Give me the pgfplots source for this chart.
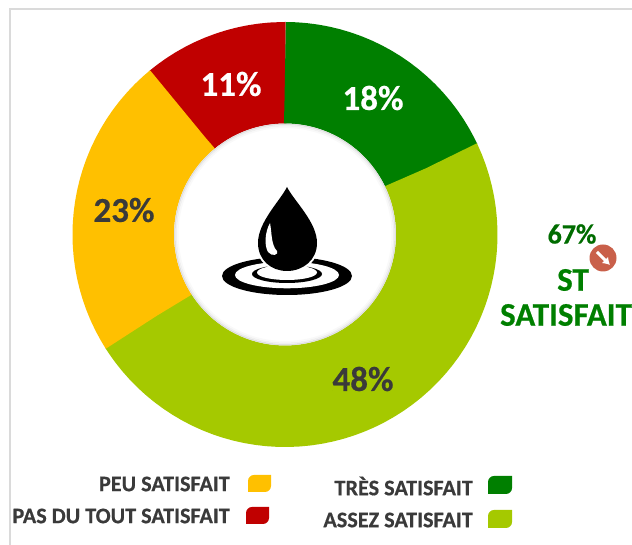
\documentclass[border=0pt]{standalone}
\usepackage{fontspec}
\setmainfont[BoldFeatures={FakeBold=0.5}]{Carlito}
\usepackage{pgfplots}
\pgfplotsset{compat=1.18}
\usepgfplotslibrary{polar}
\usetikzlibrary{arrows.meta}
\definecolor{cG}{HTML}{007F00}
\definecolor{cL}{HTML}{A5C900}
\definecolor{cY}{HTML}{FFC000}
\definecolor{cR}{HTML}{C00000}
\definecolor{cT}{HTML}{3A3A3A}
\definecolor{cB}{HTML}{DADADA}
\definecolor{cA}{HTML}{C9604A}
\newcommand\sw[5]{\fill[#1] (#2,#3) [rounded corners=6pt] -- (#2,#5) [sharp corners] -- (#4,#5) [rounded corners=6pt] -- (#4,#3) [sharp corners] -- cycle;}
\begin{document}
\begin{tikzpicture}[x=1pt,y=1pt]
\path[use as bounding box] (0,0) rectangle (632,545);
\draw[cB,line width=2pt] (10,0) -- (10,536) -- (632,536);
\begin{polaraxis}[
  at={(285pt,310.5pt)},anchor=center,
  scale only axis,width=425pt,height=425pt,
  ymin=0,ymax=212.5,xmin=0,xmax=360,
  hide axis,clip=false,
  every axis plot/.append style={no markers,line width=101.5pt,line cap=butt,line join=round}
]
% share of each slice: 18, 48, 23, 11 per cent, clockwise from the top, ring at radius 161.75
\addplot[cR] coordinates {(-230.4,161.75)(-230.5,161.75)(-233,161.75)(-236,161.75)(-239,161.75)(-242,161.75)(-245,161.75)(-248,161.75)(-251,161.75)(-254,161.75)(-257,161.75)(-260,161.75)(-263,161.75)(-266,161.75)(-269.9,161.75)(-270.2,161.75)};
\addplot[cG] coordinates {(90,161.75)(89.9,161.75)(87,161.75)(84,161.75)(81,161.75)(78,161.75)(75,161.75)(72,161.75)(69,161.75)(66,161.75)(63,161.75)(60,161.75)(57,161.75)(54,161.75)(51,161.75)(48,161.75)(45,161.75)(42,161.75)(39,161.75)(36,161.75)(33,161.75)(30,161.75)(27,161.75)(25.3,161.75)(25.0,161.75)};
\addplot[cL] coordinates {(25.2,161.75)(25.1,161.75)(22,161.75)(19,161.75)(16,161.75)(13,161.75)(10,161.75)(7,161.75)(4,161.75)(1,161.75)(-2,161.75)(-5,161.75)(-8,161.75)(-11,161.75)(-14,161.75)(-17,161.75)(-20,161.75)(-23,161.75)(-26,161.75)(-29,161.75)(-32,161.75)(-35,161.75)(-38,161.75)(-41,161.75)(-44,161.75)(-47,161.75)(-50,161.75)(-53,161.75)(-56,161.75)(-59,161.75)(-62,161.75)(-65,161.75)(-68,161.75)(-71,161.75)(-74,161.75)(-77,161.75)(-80,161.75)(-83,161.75)(-86,161.75)(-89,161.75)(-92,161.75)(-95,161.75)(-98,161.75)(-101,161.75)(-104,161.75)(-107,161.75)(-110,161.75)(-113,161.75)(-116,161.75)(-119,161.75)(-122,161.75)(-125,161.75)(-128,161.75)(-131,161.75)(-134,161.75)(-137,161.75)(-140,161.75)(-143,161.75)(-146,161.75)(-147.5,161.75)(-147.8,161.75)};
\addplot[cY] coordinates {(-147.6,161.75)(-147.7,161.75)(-150,161.75)(-153,161.75)(-156,161.75)(-159,161.75)(-162,161.75)(-165,161.75)(-168,161.75)(-171,161.75)(-174,161.75)(-177,161.75)(-180,161.75)(-183,161.75)(-186,161.75)(-189,161.75)(-192,161.75)(-195,161.75)(-198,161.75)(-201,161.75)(-204,161.75)(-207,161.75)(-210,161.75)(-213,161.75)(-216,161.75)(-219,161.75)(-222,161.75)(-225,161.75)(-228,161.75)(-230.3,161.75)(-230.6,161.75)};
\end{polaraxis}
% soft shadow inside the hole
\draw[black!12,line width=1.5pt] (285,310.5) circle (110.2);
\draw[black!6,line width=1.5pt] (285,310.5) circle (108.7);
\draw[black!2.5,line width=1.5pt] (285,310.5) circle (107.2);
% percentages
\node[font=\fontsize{35}{35}\bfseries,text=white] at (373,447) {18\%};
\node[font=\fontsize{35}{35}\bfseries,text=white] at (231,461) {11\%};
\node[font=\fontsize{35}{35}\bfseries,text=cT] at (124,335) {23\%};
\node[font=\fontsize{35}{35}\bfseries,text=cT] at (363,166) {48\%};
% drop icon
\begin{scope}[shift={(0,545)},yscale=-1]
\fill[black] (287,276) ellipse [x radius=65,y radius=19];
\fill[white] (287,275) ellipse [x radius=52,y radius=13.3];
\fill[black] (287,274) ellipse [x radius=35,y radius=9];
\fill[white] (287,272.5) ellipse [x radius=30,y radius=7.5];
\path[draw=white,line width=4pt,fill=black] (287,187) .. controls (280,201) and (258,222) .. (258,243)
  .. controls (258,260) and (271,271) .. (287,271)
  .. controls (303,271) and (317,260) .. (317,243)
  .. controls (317,222) and (294,201) .. (287,187) -- cycle;
\fill[black] (287,187) .. controls (280,201) and (258,222) .. (258,243)
  .. controls (258,260) and (271,271) .. (287,271)
  .. controls (303,271) and (317,260) .. (317,243)
  .. controls (317,222) and (294,201) .. (287,187) -- cycle;
\fill[white] (270,223) .. controls (265,232) and (264,245) .. (268,252)
  .. controls (272,257) and (279,255) .. (277,251)
  .. controls (271,245) and (272,233) .. (270,223) -- cycle;
\end{scope}
% side note
\node[font=\fontsize{28}{28}\bfseries,text=cG!85!black] at (572,311) {67\%};
\fill[cA] (603,287) circle (13.5);
\draw[white,line width=3pt,-{Latex[length=7pt,width=9pt]}] (597,293) -- (610,280);
\node[font=\fontsize{33}{33}\bfseries,text=cG] at (573,265) {ST};
\node[font=\fontsize{33}{33}\bfseries,text=cG] at (566,230) {SATISFAIT};
% legend
\node[anchor=east,inner sep=0pt,font=\fontsize{22.2}{22}\bfseries,text=cT] at (230,61) {PEU SATISFAIT};
\node[anchor=east,inner sep=0pt,font=\fontsize{22.2}{22}\bfseries,text=cT] at (230,29) {PAS DU TOUT SATISFAIT};
\node[anchor=east,inner sep=0pt,font=\fontsize{22.2}{22}\bfseries,text=cT] at (473,59) {TRÈS SATISFAIT};
\node[anchor=east,inner sep=0pt,font=\fontsize{22.2}{22}\bfseries,text=cT] at (473,25) {ASSEZ SATISFAIT};
\sw{cY}{248}{53}{271}{70}
\sw{cR}{246}{21}{269}{38}
\sw{cG}{488}{51}{512}{69}
\sw{cL}{488}{17}{512}{35}
\end{tikzpicture}
\end{document}
